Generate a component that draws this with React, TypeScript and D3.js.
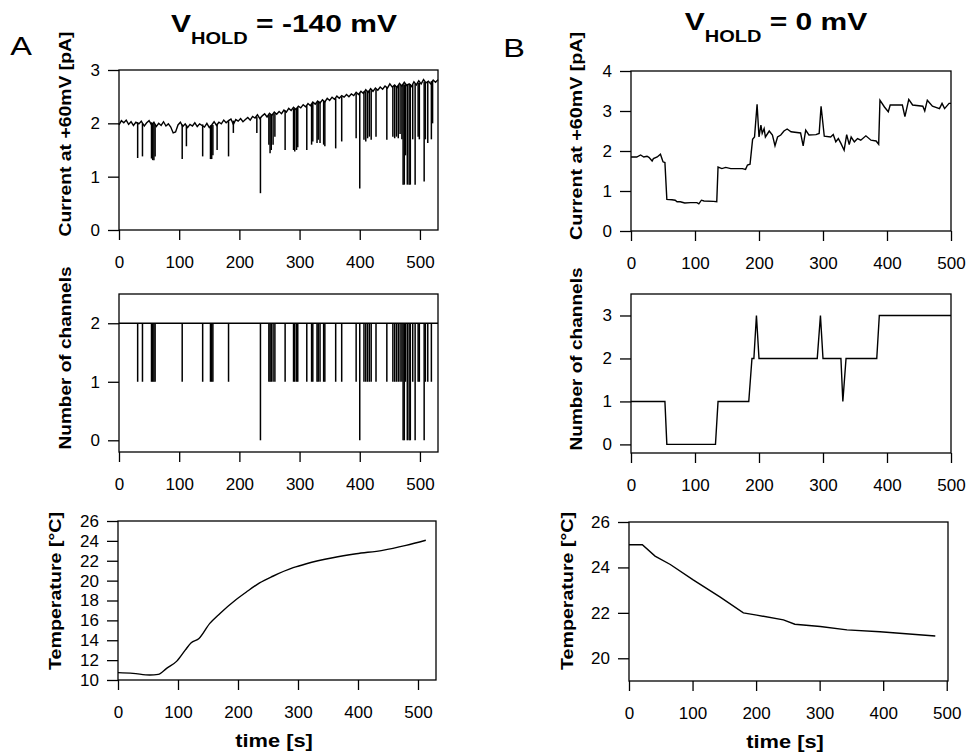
import React, { useEffect, useRef } from 'react'
import * as d3 from 'd3'

// ---------- panel A : V_HOLD = -140 mV ----------
// current trace baseline [time s, current pA]
const currentA: [number, number][] = [
  [0, 1.97], [4, 2.05], [8, 2.01], [12, 2.06], [16, 1.98], [20, 2.03], [24, 1.96], [28, 2.02],
  [33, 1.99], [37, 2.04], [42, 1.95], [46, 2.01], [50, 2.05], [54, 1.97], [58, 2.02], [62, 1.94],
  [66, 2.0], [70, 1.96], [74, 2.03], [78, 1.95], [82, 1.99], [86, 1.93], [90, 1.82], [94, 1.84],
  [98, 1.97], [102, 2.02], [106, 1.94], [110, 1.99], [114, 1.92], [118, 1.98], [122, 1.95], [126, 2.01],
  [130, 1.94], [134, 1.99], [138, 1.96], [142, 1.93], [146, 2.0], [150, 1.92], [154, 1.97], [158, 2.03],
  [162, 1.96], [166, 2.02], [170, 1.99], [174, 2.06], [178, 2.01], [182, 2.05], [186, 2.08], [190, 1.98],
  [194, 2.07], [198, 2.04], [202, 2.09], [206, 2.03], [210, 2.07], [214, 2.11], [218, 2.06], [222, 2.13],
  [226, 2.1], [230, 2.16], [234, 2.09], [238, 2.14], [242, 2.18], [246, 2.12], [250, 2.19], [254, 2.15],
  [258, 2.21], [262, 2.17], [266, 2.22], [270, 2.18], [274, 2.25], [278, 2.21], [282, 2.28], [286, 2.24],
  [290, 2.3], [294, 2.26], [298, 2.32], [302, 2.29], [306, 2.35], [310, 2.31], [314, 2.37], [318, 2.33],
  [322, 2.4], [326, 2.36], [330, 2.42], [334, 2.38], [338, 2.44], [342, 2.4], [346, 2.47], [350, 2.43],
  [354, 2.49], [358, 2.45], [362, 2.51], [366, 2.47], [370, 2.52], [374, 2.49], [378, 2.54], [382, 2.5],
  [386, 2.55], [390, 2.52], [394, 2.58], [398, 2.54], [402, 2.6], [406, 2.56], [410, 2.63], [414, 2.58],
  [418, 2.65], [422, 2.6], [426, 2.66], [430, 2.62], [434, 2.68], [438, 2.64], [442, 2.7], [446, 2.66],
  [450, 2.74], [454, 2.68], [458, 2.72], [462, 2.67], [466, 2.75], [470, 2.7], [474, 2.77], [478, 2.71],
  [482, 2.74], [486, 2.69], [490, 2.78], [494, 2.72], [498, 2.8], [502, 2.74], [506, 2.82], [510, 2.76],
  [514, 2.79], [518, 2.74], [522, 2.81], [526, 2.77], [530, 2.82],
]
// closing events: [time s, current before, current at bottom, channels open]
const eventsA: [number, number, number, number][] = [
  [31, 2.02, 1.35, 1], [39, 2.0, 1.38, 1], [54, 2.02, 1.34, 1], [56, 2.0, 1.31, 1], [58, 2.0, 1.31, 1],
  [60, 1.98, 1.38, 1], [105, 1.98, 1.33, 1], [112, 1.97, 1.57, 2], [139, 1.98, 1.38, 1], [152, 1.96, 1.33, 1],
  [154, 1.97, 1.33, 1], [156, 1.97, 1.4, 1], [163, 1.99, 1.5, 2], [182, 2.04, 1.38, 1], [190, 2.05, 1.82, 2],
  [229, 2.12, 1.82, 2], [235, 2.12, 0.69, 0], [249, 2.16, 1.6, 1], [251, 2.17, 1.44, 1], [253, 2.16, 1.5, 1],
  [256, 2.18, 1.6, 1], [259, 2.19, 1.75, 1], [276, 2.24, 1.5, 1], [290, 2.28, 1.5, 1], [292, 2.28, 1.47, 1],
  [295, 2.29, 1.5, 1], [297, 2.3, 1.55, 1], [312, 2.34, 1.5, 1], [320, 2.36, 1.6, 1], [322, 2.38, 1.66, 1],
  [329, 2.4, 1.63, 1], [331, 2.4, 1.69, 1], [334, 2.41, 1.63, 1], [340, 2.42, 1.6, 1], [342, 2.42, 1.57, 1],
  [360, 2.47, 1.53, 1], [370, 2.5, 1.66, 1], [394, 2.56, 1.72, 1], [400, 2.57, 0.78, 0], [407, 2.6, 1.69, 1],
  [410, 2.6, 1.66, 1], [413, 2.61, 1.72, 1], [416, 2.62, 1.75, 1], [419, 2.62, 1.69, 1], [427, 2.64, 1.75, 1],
  [445, 2.68, 1.69, 1], [455, 2.7, 1.75, 1], [458, 2.71, 1.72, 1], [461, 2.7, 1.75, 1], [464, 2.72, 1.72, 1],
  [467, 2.72, 1.8, 1], [470, 2.72, 1.7, 1], [472, 2.73, 0.85, 0], [474, 2.73, 0.85, 0], [476, 2.73, 1.4, 1],
  [479, 2.74, 0.85, 0], [482, 2.74, 0.85, 0], [484, 2.74, 0.85, 0], [488, 2.73, 1.7, 1], [492, 2.74, 0.85, 0],
  [497, 2.76, 1.75, 1], [499, 2.76, 1.7, 1], [507, 2.78, 0.91, 0], [509, 2.77, 1.7, 1], [513, 2.78, 1.63, 1],
  [519, 2.79, 1.7, 1], [521, 2.8, 2.0, 2],
]
const channelsA: [number, number][] = [[0, 2], [530, 2]]
const temperatureA: [number, number][] = [
  [0, 10.74], [25, 10.67], [53, 10.5], [67, 10.57], [81, 11.17], [98, 11.9], [112, 13.0], [122, 13.75],
  [135, 14.18], [153, 15.7], [170, 16.7], [197, 18.1], [214, 18.86], [236, 19.77], [258, 20.44],
  [292, 21.3], [314, 21.7], [358, 22.3], [397, 22.7], [441, 23.05], [480, 23.55], [513, 24.06],
]

// ---------- panel B : V_HOLD = 0 mV ----------
const currentB: [number, number][] = [
  [0, 1.85], [9, 1.85], [15, 1.9], [20, 1.85], [25, 1.87], [28, 1.84], [33, 1.75], [35, 1.81], [41, 1.85],
  [46, 1.92], [50, 1.73], [53, 1.71], [56, 0.79], [64, 0.78], [69, 0.77], [72, 0.73], [77, 0.73], [84, 0.7],
  [93, 0.71], [103, 0.71], [106, 0.68], [110, 0.77], [114, 0.75], [129, 0.74], [134, 0.73], [136, 1.6],
  [142, 1.56], [148, 1.59], [156, 1.56], [174, 1.56], [179, 1.54], [182, 1.65], [186, 1.67], [190, 2.29],
  [193, 2.35], [197, 3.17], [200, 2.35], [203, 2.65], [205, 2.44], [208, 2.56], [210, 2.35], [216, 2.5],
  [221, 2.4], [225, 2.13], [229, 2.35], [234, 2.4], [239, 2.5], [244, 2.55], [250, 2.48], [265, 2.45],
  [269, 2.13], [273, 2.52], [278, 2.4], [289, 2.41], [294, 2.44], [297, 3.12], [302, 2.37], [312, 2.35],
  [316, 2.41], [320, 2.23], [324, 2.31], [328, 2.19], [333, 2.02], [337, 2.41], [341, 2.16], [344, 2.35],
  [349, 2.23], [354, 2.31], [359, 2.27], [367, 2.38], [375, 2.27], [383, 2.25], [387, 2.17], [389, 3.27],
  [396, 3.1], [402, 2.98], [405, 3.15], [424, 3.15], [428, 2.86], [434, 3.29], [440, 3.15], [456, 3.12],
  [459, 3.0], [463, 3.27], [471, 3.12], [482, 3.06], [486, 3.19], [490, 3.06], [497, 3.19], [500, 3.19],
]
const channelsB: [number, number][] = [
  [0, 1], [53, 1], [56, 0], [132, 0], [136, 1], [184, 1], [189, 2], [192, 2], [196, 3], [200, 2],
  [291, 2], [296, 3], [300, 2], [328, 2], [331, 1], [336, 2], [384, 2], [388, 3], [500, 3],
]
const temperatureB: [number, number][] = [
  [0, 25.0], [21, 25.0], [41, 24.5], [65, 24.13], [101, 23.45], [143, 22.7], [180, 22.0], [201, 21.9],
  [243, 21.69], [261, 21.5], [301, 21.4], [343, 21.25], [395, 21.17], [482, 20.98],
]

const xTicks = [0, 100, 200, 300, 400, 500]
const FONT = '"Liberation Sans", Arial, Helvetica, sans-serif'

type Box = { l: number; r: number; t: number; b: number }

function panel(svg: any, box: Box, xDom: number[], yDom: number[], yTicks: number[]) {
  const x = d3.scaleLinear().domain(xDom).range([box.l, box.r])
  const y = d3.scaleLinear().domain(yDom).range([box.b, box.t])
  const g = svg.append('g')
  g.append('g').attr('transform', `translate(0,${box.b})`)
    .call(d3.axisBottom(x).tickValues(xTicks).tickSize(10).tickPadding(16).tickFormat(d3.format('d')))
  g.append('g').attr('transform', `translate(${box.l},0)`)
    .call(d3.axisLeft(y).tickValues(yTicks).tickSize(11).tickPadding(8).tickFormat(d3.format('d')))
  g.selectAll('.domain').remove()
  g.selectAll('.tick line').attr('stroke', '#000').attr('stroke-width', 1.3)
  g.selectAll('.tick text').attr('font-size', 17).attr('font-family', FONT).attr('fill', '#000')
  g.append('rect')
    .attr('x', box.l).attr('y', box.t)
    .attr('width', box.r - box.l).attr('height', box.b - box.t)
    .attr('fill', 'none').attr('stroke', '#000').attr('stroke-width', 1.3)
  return { x, y, g }
}

function trace(p: any, data: [number, number][], curve: any = d3.curveLinear) {
  const line = d3.line<[number, number]>().x(d => p.x(d[0])).y(d => p.y(d[1])).curve(curve)
  p.g.append('path').datum(data).attr('d', line)
    .attr('fill', 'none').attr('stroke', '#000').attr('stroke-width', 1.4)
}

function ylab(svg: any, text: string, x: number, y: number, len: number) {
  svg.append('text')
    .attr('transform', `translate(${x},${y}) rotate(-90)`)
    .attr('text-anchor', 'middle').attr('font-family', FONT).attr('font-weight', 'bold')
    .attr('font-size', 16).attr('textLength', len).attr('lengthAdjust', 'spacingAndGlyphs')
    .text(text)
}

function xlab(svg: any, cx: number, y: number) {
  svg.append('text')
    .attr('transform', `translate(${cx},${y}) scale(1.15,1)`)
    .attr('text-anchor', 'middle').attr('font-family', FONT).attr('font-weight', 'bold')
    .attr('font-size', 19).text('time [s]')
}

function title(svg: any, cx: number, y: number, rest: string) {
  const t = svg.append('text')
    .attr('transform', `translate(${cx},${y}) scale(1.25,1)`)
    .attr('text-anchor', 'middle').attr('font-family', FONT).attr('font-weight', 'bold')
    .attr('font-size', 24).style('white-space', 'pre')
  t.append('tspan').text('V')
  t.append('tspan').attr('font-size', 16).attr('dy', 12).text('HOLD')
  t.append('tspan').attr('dy', -12).text(rest)
}

function letter(svg: any, cx: number, y: number, s: string) {
  svg.append('text')
    .attr('transform', `translate(${cx},${y}) scale(1.25,1)`)
    .attr('text-anchor', 'middle').attr('font-family', FONT).attr('font-size', 26).text(s)
}

const App = () => {
  const ref = useRef<SVGSVGElement>(null)

  useEffect(() => {
    const svg = d3.select(ref.current)
    svg.selectAll('*').remove()

    // ---- A ----
    const a1 = panel(svg, { l: 119, r: 438, t: 70, b: 230 }, [0, 530], [0, 3], [0, 1, 2, 3])
    trace(a1, currentA)
    a1.g.append('g').selectAll('line').data(eventsA).join('line')
      .attr('x1', d => a1.x(d[0])).attr('x2', d => a1.x(d[0]))
      .attr('y1', d => a1.y(d[1])).attr('y2', d => a1.y(d[2]))
      .attr('stroke', '#000').attr('stroke-width', 1.5)

    const a2 = panel(svg, { l: 119, r: 438, t: 294, b: 452 }, [0, 530], [-0.2, 2.5], [0, 1, 2])
    trace(a2, channelsA)
    a2.g.append('g').selectAll('line').data(eventsA.filter(d => d[3] < 2)).join('line')
      .attr('x1', d => a2.x(d[0])).attr('x2', d => a2.x(d[0]))
      .attr('y1', a2.y(2)).attr('y2', d => a2.y(d[3]))
      .attr('stroke', '#000').attr('stroke-width', 1.5)

    const a3 = panel(svg, { l: 118, r: 436, t: 521, b: 680 }, [0, 530], [10, 26], d3.range(10, 27, 2))
    trace(a3, temperatureA, d3.curveMonotoneX)

    // ---- B ----
    const b1 = panel(svg, { l: 631, r: 951, t: 71, b: 231 }, [0, 500], [0, 4], [0, 1, 2, 3, 4])
    trace(b1, currentB)
    const b2 = panel(svg, { l: 631, r: 951, t: 294, b: 453 }, [0, 500], [-0.2, 3.5], [0, 1, 2, 3])
    trace(b2, channelsB)
    const b3 = panel(svg, { l: 629, r: 948, t: 522, b: 681 }, [0, 502], [19, 26], [20, 22, 24, 26])
    trace(b3, temperatureB)

    // ---- labels ----
    ylab(svg, 'Current at +60mV [pA]', 71, 134, 205)
    ylab(svg, 'Number of channels', 71, 358, 183)
    ylab(svg, 'Temperature [°C]', 61, 591, 158)
    ylab(svg, 'Current at +60mV [pA]', 582, 136, 208)
    ylab(svg, 'Number of channels', 582, 359, 183)
    ylab(svg, 'Temperature [°C]', 573, 591, 158)
    xlab(svg, 274, 747)
    xlab(svg, 785, 748)
    title(svg, 284, 32, ' = -140 mV')
    title(svg, 776, 30, ' = 0 mV')
    letter(svg, 21, 55, 'A')
    letter(svg, 514, 57, 'B')
  }, [])

  return (
    <svg ref={ref} width={966} height={756}
      style={{ position: 'absolute', left: 0, top: 0, background: '#fff' }} />
  )
}

export default App
